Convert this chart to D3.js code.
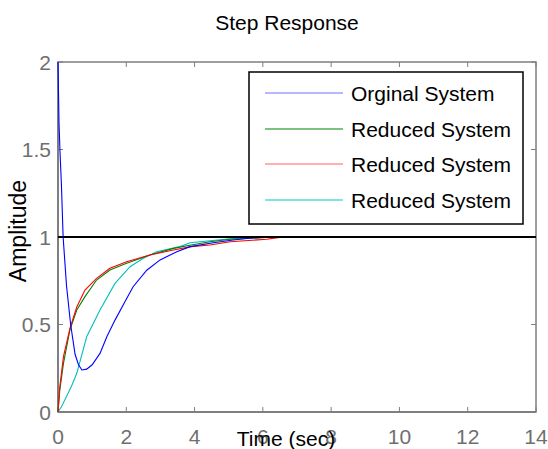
<!DOCTYPE html>
<html><head><meta charset="utf-8">
<script src="https://cdn.jsdelivr.net/npm/d3@7"></script>
<style>body{margin:0;background:#fff}text{font-family:"Liberation Sans",Arial,sans-serif}</style>
</head><body><svg id="c" width="548" height="449"></svg>
<script>
const xTicks = [0,2,4,6,8,10,12,14];
const yTicks = [0,0.5,1,1.5,2];
const yTickLabels = ["0","0.5","1","1.5","2"];
const legendLabels = ["Orginal System","Reduced System","Reduced System","Reduced System"];
const seriesColors = ["#0000ff","#008000","#ff0000","#00bfbf"];
const legendColors = ["#7070ff","#008000","#ff6060","#00c8c8"];

const origT = [0,0.03,0.06,0.1,0.15,0.25,0.37,0.5,0.6,0.7,0.84,1.0,1.23,1.43,1.67,1.96,2.2,2.6,2.99,3.48,3.87,4.55,5.13,5.6,6.2,6.5];
const origV = [2,1.65,1.48,1.3,1.0,0.72,0.5,0.33,0.27,0.24,0.245,0.27,0.335,0.43,0.525,0.63,0.716,0.81,0.869,0.916,0.945,0.967,0.983,0.993,1.0,1.0];
const red1T = [0,0.05,0.16,0.35,0.55,0.79,1.13,1.52,2.01,2.69,3.38,3.9,4.45,5.04,6.11,6.5,7.5,8.3];
const red1V = [0,0.12,0.278,0.47,0.583,0.659,0.754,0.811,0.85,0.897,0.935,0.954,0.973,0.987,0.997,1.0,1.0,1.0];
const red2T = [0,0.05,0.16,0.35,0.55,0.79,1.13,1.52,2.01,2.69,3.38,3.9,4.45,5.04,6.11,6.5,7.5,8.3];
const red2V = [0,0.14,0.316,0.478,0.6,0.697,0.764,0.821,0.859,0.897,0.926,0.945,0.954,0.973,0.987,0.998,1.0,1.0];
const red3T = [0,0.1,0.25,0.4,0.55,0.84,1.23,1.67,2.11,2.5,2.89,3.57,3.87,4.45,5.04,5.5,6.0];
const red3V = [0,0.03,0.088,0.15,0.221,0.43,0.583,0.735,0.83,0.878,0.916,0.945,0.967,0.979,0.99,0.996,1.0];
const steadyState = 1;

const svg = d3.select("#c");
const L=58,R=536,T=62,B=412;
const x = d3.scaleLinear().domain([0,14]).range([L,R]);
const y = d3.scaleLinear().domain([0,2]).range([B,T]);
const axisCol = "#7f7f7f";

// frame
svg.append("rect").attr("x",L).attr("y",T).attr("width",R-L).attr("height",B-T).attr("fill","#fff").attr("stroke",axisCol).attr("stroke-width",1.5);
svg.append("line").attr("x1",L).attr("x2",L).attr("y1",T).attr("y2",B).attr("stroke",axisCol).attr("stroke-width",2);
svg.append("line").attr("x1",L).attr("x2",R).attr("y1",B).attr("y2",B).attr("stroke",axisCol).attr("stroke-width",2);

// ticks inward
const tl=5;
svg.append("g").selectAll("line").data(xTicks).join("line").attr("x1",d=>x(d)).attr("x2",d=>x(d)).attr("y1",B).attr("y2",B-tl).attr("stroke",axisCol);
svg.append("g").selectAll("line").data(xTicks).join("line").attr("x1",d=>x(d)).attr("x2",d=>x(d)).attr("y1",T).attr("y2",T+tl).attr("stroke",axisCol);
svg.append("g").selectAll("line").data(yTicks).join("line").attr("x1",L).attr("x2",L+tl).attr("y1",d=>y(d)).attr("y2",d=>y(d)).attr("stroke",axisCol);
svg.append("g").selectAll("line").data(yTicks).join("line").attr("x1",R).attr("x2",R-tl).attr("y1",d=>y(d)).attr("y2",d=>y(d)).attr("stroke",axisCol);

// tick labels
svg.append("g").selectAll("text").data(xTicks).join("text").attr("x",d=>x(d)).attr("y",B+32).attr("text-anchor","middle").attr("font-size",21).attr("fill","#6f6f6f").text(d=>d);
svg.append("g").selectAll("text").data(yTicks).join("text").attr("x",L-7).attr("y",d=>y(d)+7.5).attr("text-anchor","end").attr("font-size",21).attr("fill","#6f6f6f").text((d,i)=>yTickLabels[i]);

// lines
const line = d3.line().x(d=>x(d[0])).y(d=>y(d[1]));
const series = [[origT,origV],[red1T,red1V],[red2T,red2V],[red3T,red3V]];
const drawOrder=[3,1,2,0];
drawOrder.forEach(i=>{
  const [t,v]=series[i];
  svg.append("path").datum(t.map((d,j)=>[d,v[j]])).attr("d",line).attr("fill","none").attr("stroke",seriesColors[i]).attr("stroke-width",1.1);
});
// steady state line
svg.append("line").attr("x1",L).attr("x2",R).attr("y1",y(steadyState)).attr("y2",y(steadyState)).attr("stroke","#000").attr("stroke-width",2);

// legend
svg.append("rect").attr("x",249).attr("y",72).attr("width",274).attr("height",152).attr("fill","#fff").attr("stroke","#000").attr("stroke-width",1.5);
const rows=[93,129,164,200];
legendLabels.forEach((lab,i)=>{
  svg.append("line").attr("x1",265).attr("x2",343).attr("y1",rows[i]).attr("y2",rows[i]).attr("stroke",legendColors[i]).attr("stroke-width",1.2);
  svg.append("text").attr("x",351).attr("y",rows[i]+7.5).attr("font-size",21).attr("fill","#000").text(lab);
});

// titles
svg.append("text").attr("x",287).attr("y",30).attr("text-anchor","middle").attr("font-size",21).text("Step Response");
svg.append("text").attr("x",286).attr("y",446).attr("text-anchor","middle").attr("font-size",21).text("Time (sec)");
svg.append("text").attr("transform","translate(26,231) rotate(-90)").attr("text-anchor","middle").attr("font-size",23).text("Amplitude");
</script></body></html>
